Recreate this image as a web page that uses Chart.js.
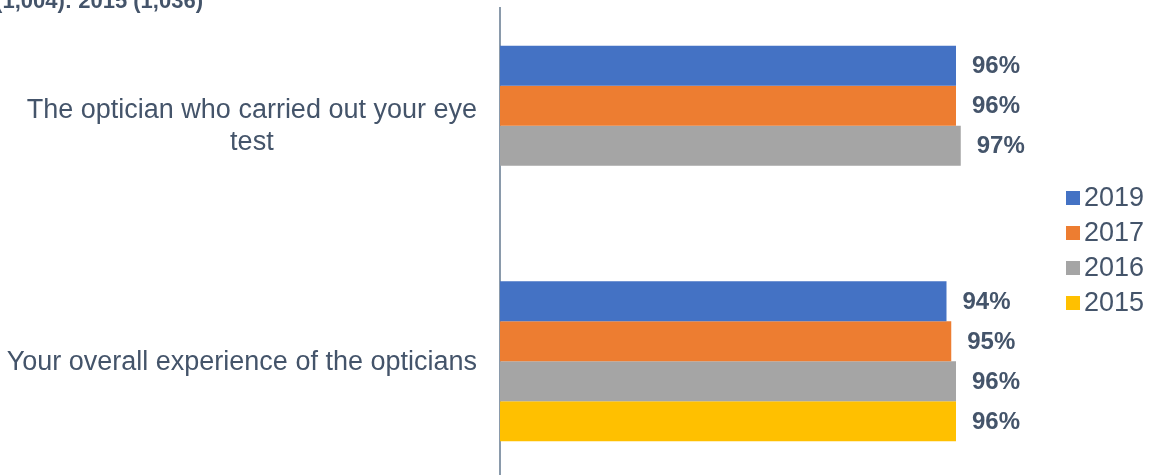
<!DOCTYPE html>
<html>
<head>
<meta charset="utf-8">
<script src="https://cdn.jsdelivr.net/npm/chart.js@4"></script>
<style>
  html, body { margin: 0; padding: 0; background: #ffffff; overflow: hidden; }
  #wrap { position: relative; width: 1155px; height: 490px; }
</style>
</head>
<body>
<div id="wrap"><canvas id="c"></canvas></div>
<script>
// ---- data ----
const categories = [
  ["The optician who carried out your eye", "test"],
  ["Your overall experience of the opticians"]
];
const seriesNames = ["2019", "2017", "2016", "2015"];
const values2019 = [96, 94];
const values2017 = [96, 95];
const values2016 = [97, 96];
const values2015 = [null, 96];
const topNote = "2017 (1,004): 2015 (1,036)";

const seriesColors = ["#4472C4", "#ED7D31", "#A5A5A5", "#FFC000"];
const textColor = "#44546A";
const FONT = "'Liberation Sans', Arial, sans-serif";

const seriesValues = [values2019, values2017, values2016, values2015];

const decorPlugin = {
  id: 'decor',
  afterDatasetsDraw(chart) {
    const ctx = chart.ctx;
    const area = chart.chartArea;
    const yScale = chart.scales.y;
    ctx.save();
    // data labels
    ctx.font = "bold 24px " + FONT;
    ctx.fillStyle = textColor;
    ctx.textAlign = "left";
    ctx.textBaseline = "middle";
    chart.data.datasets.forEach((ds, di) => {
      const meta = chart.getDatasetMeta(di);
      meta.data.forEach((el, i) => {
        const v = ds.data[i];
        if (v === null || v === undefined) return;
        ctx.fillText(v + "%", el.x + 16, el.y + 1);
      });
    });
    // category labels (block right-aligned to the axis, lines centred in block)
    ctx.font = "27px " + FONT;
    ctx.textAlign = "center";
    const lineH = 32;
    const rightEdge = area.left - 23;
    chart.data.labels.forEach((lab, i) => {
      const lines = Array.isArray(lab) ? lab : [lab];
      const w = Math.max(...lines.map(l => ctx.measureText(l).width));
      const cx = rightEdge - w / 2;
      const cy = yScale.getPixelForTick(i);
      const y0 = cy - (lines.length - 1) * lineH / 2;
      lines.forEach((l, k) => ctx.fillText(l, cx, y0 + k * lineH + 1));
    });
    // legend
    const lx = 1066, ly0 = 198, lstep = 35;
    ctx.font = "27px " + FONT;
    ctx.textAlign = "left";
    chart.data.datasets.forEach((ds, di) => {
      const y = ly0 + di * lstep;
      ctx.fillStyle = ds.backgroundColor;
      ctx.fillRect(lx, y - 7, 14, 14);
      ctx.fillStyle = textColor;
      ctx.fillText(ds.label, lx + 18, y + 1);
    });
    // cut-off note at top
    ctx.font = "bold 22px " + FONT;
    ctx.textAlign = "right";
    ctx.textBaseline = "alphabetic";
    ctx.fillText(topNote, 203, 8);
    ctx.restore();
  }
};

new Chart(document.getElementById('c'), {
  type: 'bar',
  data: {
    labels: categories,
    datasets: seriesNames.map((n, i) => ({
      label: n,
      data: seriesValues[i],
      backgroundColor: seriesColors[i],
      borderWidth: 0,
      categoryPercentage: 0.68,
      barPercentage: 1.0
    }))
  },
  options: {
    indexAxis: 'y',
    responsive: true,
    maintainAspectRatio: false,
    animation: false,
    layout: { padding: { left: 500, right: 180, top: 8, bottom: 11 } },
    plugins: { legend: { display: false }, tooltip: { enabled: false } },
    scales: {
      x: { display: false, min: 0, max: 100 },
      y: {
        ticks: { display: false },
        grid: { display: false, drawTicks: false },
        border: { display: true, color: "#8A9AAB", width: 2 }
      }
    }
  },
  plugins: [decorPlugin]
});
</script>
</body>
</html>
